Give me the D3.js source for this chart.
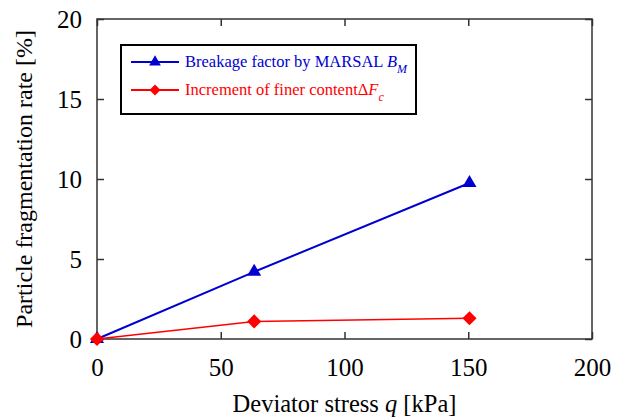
<!DOCTYPE html>
<html>
<head>
<meta charset="utf-8">
<script src="https://cdn.jsdelivr.net/npm/d3@7"></script>
<style>
  body { margin: 0; background: #fff; }
  svg text { font-family: "Liberation Serif", "DejaVu Serif", serif !important; }
</style>
</head>
<body>
<div id="chart"></div>
<script>
// Data
const stress = [0, 63.5, 150.5];            // deviator stress q [kPa]
const breakage = [0, 4.2, 9.75];            // Breakage factor by MARSAL B_M [%]
const finer = [0, 1.1, 1.3];                // Increment of finer content dF_c [%]
const xTicks = [0, 50, 100, 150, 200];
const yTicks = [0, 5, 10, 15, 20];

const W = 622, H = 419;
const margin = {top: 19, right: 30, bottom: 80, left: 97};
const width = W - margin.left - margin.right;
const height = H - margin.top - margin.bottom;
const serif = "'Liberation Serif', 'DejaVu Serif', serif";

const svg = d3.select("#chart")
  .append("svg")
    .attr("width", W)
    .attr("height", H)
    .attr("font-family", serif);

const g = svg.append("g")
    .attr("transform", `translate(${margin.left},${margin.top})`);

const x = d3.scaleLinear().domain([0, 200]).range([0, width]);
const y = d3.scaleLinear().domain([0, 20]).range([height, 0]);

const axisColor = "#333";
const tickLen = 7;

// Axes: ticks point inward on all four sides
const styleAxis = sel => {
  sel.attr("font-family", serif);
  sel.select(".domain").remove();
  sel.selectAll(".tick line").attr("stroke", axisColor).attr("stroke-width", 1.5);
};

g.append("g")
  .attr("transform", `translate(0,${height})`)
  .call(d3.axisBottom(x).tickValues(xTicks).tickSizeInner(-tickLen).tickSizeOuter(0).tickPadding(19))
  .call(styleAxis)
  .selectAll("text")
    .attr("fill", "#000")
    .attr("font-family", serif)
    .style("font-size", "25px");

g.append("g")
  .call(d3.axisTop(x).tickValues(xTicks).tickSizeInner(-tickLen).tickSizeOuter(0).tickFormat(""))
  .call(styleAxis);

g.append("g")
  .call(d3.axisLeft(y).tickValues(yTicks).tickSizeInner(-tickLen).tickSizeOuter(0).tickPadding(15))
  .call(styleAxis)
  .selectAll("text")
    .attr("fill", "#000")
    .attr("font-family", serif)
    .style("font-size", "25px");

g.append("g")
  .attr("transform", `translate(${width},0)`)
  .call(d3.axisRight(y).tickValues(yTicks).tickSizeInner(-tickLen).tickSizeOuter(0).tickFormat(""))
  .call(styleAxis);

// Frame
g.append("rect")
  .attr("width", width)
  .attr("height", height)
  .attr("fill", "none")
  .attr("stroke", axisColor)
  .attr("stroke-width", 1.5);

// Series
const blue = "#0000d0", red = "#ff0000";
const line = d3.line().x(d => x(d[0])).y(d => y(d[1]));
const blueData = stress.map((s, i) => [s, breakage[i]]);
const redData = stress.map((s, i) => [s, finer[i]]);

g.append("path")
  .datum(blueData)
  .attr("d", line)
  .attr("fill", "none")
  .attr("stroke", blue)
  .attr("stroke-width", 2);

g.append("path")
  .datum(redData)
  .attr("d", line)
  .attr("fill", "none")
  .attr("stroke", red)
  .attr("stroke-width", 1.5);

const tri = d3.symbol().type(d3.symbolTriangle).size(85);
const dia = d3.symbol().type(d3.symbolSquare).size(100);

g.selectAll(".tri")
  .data(blueData)
  .enter()
  .append("path")
    .attr("class", "tri")
    .attr("d", tri)
    .attr("transform", d => `translate(${x(d[0])},${y(d[1])})`)
    .attr("fill", blue);

g.selectAll(".dia")
  .data(redData)
  .enter()
  .append("path")
    .attr("class", "dia")
    .attr("d", dia)
    .attr("transform", d => `translate(${x(d[0])},${y(d[1])}) rotate(45)`)
    .attr("fill", red);

// Legend
const legend = svg.append("g").attr("transform", "translate(121,45)");
legend.append("rect")
  .attr("width", 295)
  .attr("height", 69)
  .attr("fill", "#fff")
  .attr("stroke", "#000")
  .attr("stroke-width", 2);

const legFont = "16.5px";
const leg1 = legend.append("g").attr("transform", "translate(0,17)");
leg1.append("line").attr("x1", 10).attr("x2", 58).attr("stroke", blue).attr("stroke-width", 2);
leg1.append("path").attr("d", d3.symbol().type(d3.symbolTriangle).size(60)).attr("transform", "translate(34,0)").attr("fill", blue);
const t1 = leg1.append("text").attr("x", 64).attr("y", 5).attr("fill", blue).style("font-size", legFont);
t1.append("tspan").text("Breakage factor by MARSAL ");
t1.append("tspan").attr("font-style", "italic").text("B");
t1.append("tspan").attr("font-style", "italic").attr("dy", 6).style("font-size", "12px").text("M");

const leg2 = legend.append("g").attr("transform", "translate(0,45)");
leg2.append("line").attr("x1", 10).attr("x2", 58).attr("stroke", red).attr("stroke-width", 2);
leg2.append("path").attr("d", d3.symbol().type(d3.symbolSquare).size(60)).attr("transform", "translate(34,0) rotate(45)").attr("fill", red);
const t2 = leg2.append("text").attr("x", 64).attr("y", 5).attr("fill", red).style("font-size", legFont);
t2.append("tspan").text("Increment of finer content\u0394");
t2.append("tspan").attr("font-style", "italic").text("F");
t2.append("tspan").attr("font-style", "italic").attr("dy", 6).style("font-size", "12px").text("c");

// Axis titles
const xt = svg.append("text")
  .attr("x", margin.left + width / 2)
  .attr("y", 412)
  .attr("text-anchor", "middle")
  .attr("font-family", serif)
  .style("font-size", "24.5px");
xt.append("tspan").text("Deviator stress ");
xt.append("tspan").attr("font-style", "italic").text("q ");
xt.append("tspan").text(" [kPa]");

svg.append("text")
  .attr("transform", `translate(32,${margin.top + height / 2}) rotate(-90)`)
  .attr("text-anchor", "middle")
  .attr("font-family", serif)
  .style("font-size", "24px")
  .text("Particle fragmentation rate [%]");
</script>
</body>
</html>
